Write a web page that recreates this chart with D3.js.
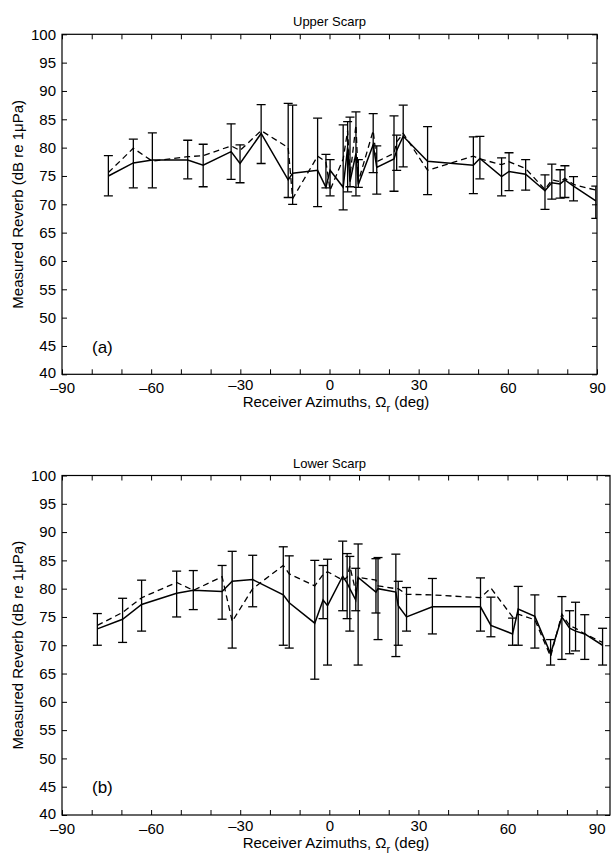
<!DOCTYPE html>
<html><head><meta charset="utf-8">
<script src="https://cdn.jsdelivr.net/npm/d3@7"></script>
<style>
body{margin:0;background:#fff}
svg{display:block}
text{font-family:"Liberation Sans",Arial,Helvetica,sans-serif;fill:#000}
</style>
</head><body>
<svg id="chart" width="611" height="855"></svg>
<script>
// ---------- data ----------
const xTickLabels = [-90, -60, -30, 0, 30, 60, 90];
const yTickLabels = [40, 45, 50, 55, 60, 65, 70, 75, 80, 85, 90, 95, 100];

const upperAz     = [-74.4,-66.0,-59.6,-47.7,-42.5,-33.1,-30.1,-23.0,-13.9,-12.4,-4.0,-1.2,0.2,4.6,6.1,6.9,8.9,9.7,14.7,15.9,21.7,22.6,24.8,33.0,48.4,50.6,57.9,60.4,66.0,72.5,74.8,77.6,79.2,82.1,89.6];
const upperSolid  = [75.0,77.3,77.8,77.8,76.9,79.3,77.2,82.5,74.3,75.5,76.0,73.0,76.0,73.0,80.0,74.0,79.0,73.5,80.5,76.5,78.0,79.5,82.0,77.6,76.9,78.1,74.9,75.8,75.3,72.4,73.8,73.6,74.3,73.2,70.6];
const upperDashed = [75.6,79.9,77.6,78.4,78.6,80.3,79.5,83.0,80.0,71.0,78.5,77.5,72.5,78.0,83.0,75.0,84.0,74.0,83.0,77.5,79.0,81.0,82.5,76.0,78.5,78.0,77.0,77.5,76.3,72.6,74.3,74.0,74.6,73.5,72.5];
const upperLo     = [71.5,72.9,72.9,74.5,73.1,74.4,73.8,77.2,71.2,70.0,69.6,72.9,71.5,69.0,72.2,73.1,71.5,73.0,75.6,71.8,72.3,76.0,76.6,71.7,71.9,74.5,71.5,72.4,72.5,69.1,70.9,71.1,71.2,70.6,67.5];
const upperHi     = [78.6,81.5,82.6,81.3,80.6,84.2,80.5,87.6,87.8,87.5,85.2,78.8,77.9,84.0,84.6,85.4,86.3,77.9,86.0,80.3,85.6,82.2,87.5,83.7,81.9,82.0,78.2,79.1,77.9,75.2,77.1,76.1,76.8,74.9,73.2];

const lowerAz     = [-78.1,-69.6,-63.2,-51.4,-45.8,-36.1,-32.7,-25.8,-15.5,-13.5,-4.9,-2.1,-0.6,4.5,6.0,6.9,8.9,9.7,15.7,16.4,22.4,23.2,26.0,34.7,50.9,54.4,61.7,63.6,69.2,74.5,78.3,80.9,82.9,86.0,92.0];
const lowerSolid  = [72.9,74.6,77.2,79.2,79.7,79.5,81.3,81.6,78.9,77.5,73.9,78.0,77.0,82.2,81.0,80.0,78.0,82.0,79.4,80.0,79.4,77.0,75.0,76.8,76.8,73.5,72.0,76.4,75.1,68.5,75.0,73.0,72.5,72.0,70.0];
const lowerDashed = [73.5,75.8,78.4,81.1,79.7,82.1,74.2,80.0,84.1,82.6,80.5,82.5,83.0,81.5,82.0,84.0,79.5,82.0,81.5,80.5,80.0,80.0,79.0,78.9,78.4,80.1,75.0,75.5,74.5,68.0,75.5,73.5,73.0,72.0,70.5];
const lowerLo     = [70.0,70.5,72.5,75.0,76.3,74.6,69.5,76.8,70.0,69.5,64.0,74.7,66.5,76.1,74.7,72.5,76.1,66.5,75.7,71.0,68.0,70.0,72.5,72.0,72.5,71.5,70.0,70.0,69.5,66.5,67.5,68.5,69.0,67.5,66.5];
const lowerHi     = [75.6,78.3,81.5,83.1,83.2,84.1,86.6,85.9,87.4,85.8,85.0,84.1,85.2,88.4,86.2,85.7,83.6,87.9,85.3,85.5,86.1,81.3,80.2,81.8,81.9,78.5,74.8,80.4,78.9,71.0,78.6,76.1,77.6,75.4,73.0];

// ---------- layout ----------
const panels = [
  {title:"Upper Scarp", tag:"(a)", top:34.3, bottom:374.3, left:62, right:597, xmax:90,
   az:upperAz, solid:upperSolid, dashed:upperDashed, lo:upperLo, hi:upperHi},
  {title:"Lower Scarp", tag:"(b)", top:475.5, bottom:815, left:62, right:610, xmax:94.5,
   az:lowerAz, solid:lowerSolid, dashed:lowerDashed, lo:lowerLo, hi:lowerHi}
];

const svg = d3.select("#chart");
const fmt = d => d < 0 ? "\u2013" + Math.abs(d) : String(d);

panels.forEach(p => {
  const x = d3.scaleLinear().domain([-90, p.xmax]).range([p.left, p.right]);
  const y = d3.scaleLinear().domain([40, 100]).range([p.bottom, p.top]);
  const g = svg.append("g");

  // box
  g.append("rect").attr("x", p.left).attr("y", p.top)
    .attr("width", p.right - p.left).attr("height", p.bottom - p.top)
    .attr("fill", "none").attr("stroke", "#000").attr("stroke-width", 1.2);

  const xt = d3.range(-90, 91, 10);
  // bottom axis
  const ax = g.append("g").attr("transform", `translate(0,${p.bottom})`)
    .call(d3.axisBottom(x).tickValues(xt).tickSize(-5).tickPadding(8)
      .tickFormat(d => xTickLabels.includes(d) ? fmt(d) : ""));
  ax.select(".domain").remove();
  ax.selectAll("text").style("font-size", "15px");
  ax.selectAll(".tick").filter(d => d === -30 || d === 0 || d === 30)
    .select("text").attr("y", 5);
  // top axis
  const at = g.append("g").attr("transform", `translate(0,${p.top})`)
    .call(d3.axisTop(x).tickValues(xt).tickSize(-5).tickFormat(""));
  at.select(".domain").remove();
  // left axis
  const al = g.append("g").attr("transform", `translate(${p.left},0)`)
    .call(d3.axisLeft(y).tickValues(yTickLabels).tickSize(-5).tickPadding(6).tickFormat(d => d));
  al.select(".domain").remove();
  al.selectAll("text").style("font-size", "15px");
  al.selectAll(".tick").filter(d => d === 40).select("text").attr("dy", "0.2em");
  // right axis
  const ar = g.append("g").attr("transform", `translate(${p.right},0)`)
    .call(d3.axisRight(y).tickValues(yTickLabels).tickSize(-5).tickFormat(""));
  ar.select(".domain").remove();
  g.selectAll(".tick line").attr("stroke", "#000").attr("stroke-width", 1);

  // title
  g.append("text").attr("x", (p.left + 597) / 2).attr("y", p.top - 8)
    .attr("text-anchor", "middle").style("font-size", "13px").text(p.title);

  // x label
  const xl = g.append("text").attr("x", 336).attr("y", p.bottom + 33)
    .attr("text-anchor", "middle").style("font-size", "15px");
  xl.append("tspan").text("Receiver Azimuths, \u03A9");
  xl.append("tspan").attr("dy", 5).style("font-size", "11px").text("r");
  xl.append("tspan").attr("dy", -5).text(" (deg)");

  // y label
  g.append("text")
    .attr("transform", `translate(23,${(p.top + p.bottom) / 2}) rotate(-90)`)
    .attr("text-anchor", "middle").style("font-size", "15px")
    .text("Measured Reverb (dB re 1\u03BCPa)");

  // panel tag
  g.append("text").attr("x", 92).attr("y", y(43.8))
    .style("font-size", "17px").text(p.tag);

  // data
  const idx = d3.range(p.az.length);
  const clip = "clip" + p.tag.replace(/\W/g, "");
  svg.append("clipPath").attr("id", clip).append("rect")
    .attr("x", p.left).attr("y", p.top).attr("width", p.right - p.left).attr("height", p.bottom - p.top);
  const dg = g.append("g").attr("clip-path", `url(#${clip})`);

  // error bars
  const eb = dg.selectAll(".eb").data(idx).join("g").attr("class", "eb")
    .attr("stroke", "#000").attr("stroke-width", 1.3);
  eb.append("line").attr("x1", i => x(p.az[i])).attr("x2", i => x(p.az[i]))
    .attr("y1", i => y(p.lo[i])).attr("y2", i => y(p.hi[i]));
  eb.append("line").attr("x1", i => x(p.az[i]) - 4.5).attr("x2", i => x(p.az[i]) + 4.5)
    .attr("y1", i => y(p.lo[i])).attr("y2", i => y(p.lo[i]));
  eb.append("line").attr("x1", i => x(p.az[i]) - 4.5).attr("x2", i => x(p.az[i]) + 4.5)
    .attr("y1", i => y(p.hi[i])).attr("y2", i => y(p.hi[i]));

  // dashed line
  dg.append("path").datum(idx)
    .attr("d", d3.line().x(i => x(p.az[i])).y(i => y(p.dashed[i])))
    .attr("fill", "none").attr("stroke", "#000").attr("stroke-width", 1.3)
    .attr("stroke-dasharray", "6,4");
  // solid line
  dg.append("path").datum(idx)
    .attr("d", d3.line().x(i => x(p.az[i])).y(i => y(p.solid[i])))
    .attr("fill", "none").attr("stroke", "#000").attr("stroke-width", 1.5);
});
</script>
</body></html>
